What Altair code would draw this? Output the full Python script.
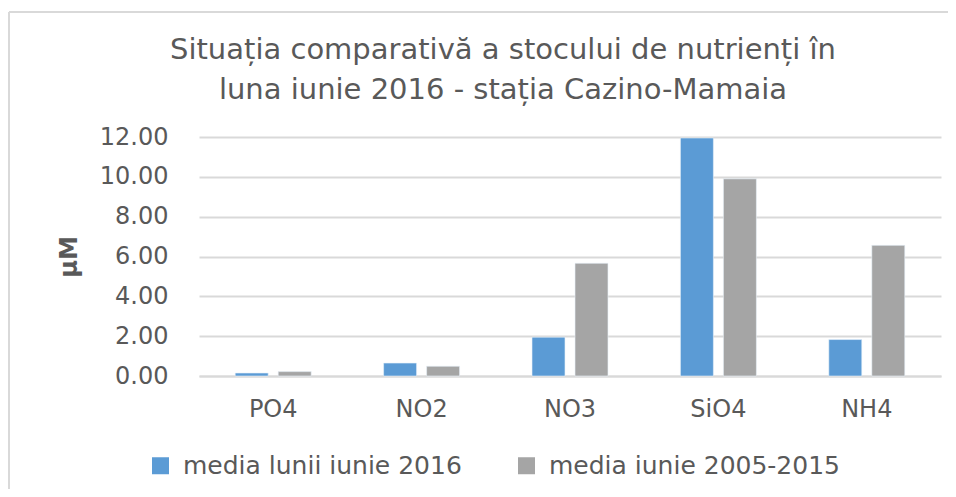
import altair as alt
import pandas as pd

categories = ["PO4", "NO2", "NO3", "SiO4", "NH4"]
series_names = ["media lunii iunie 2016", "media iunie 2005-2015"]
values_2016 = [0.15, 0.65, 1.95, 11.95, 1.83]
values_hist = [0.22, 0.49, 5.66, 9.90, 6.56]
y_ticks = [0, 2, 4, 6, 8, 10, 12]
title_lines = ["Situația comparativă a stocului de nutrienți în",
               "luna iunie 2016 - stația Cazino-Mamaia"]

rows = []
for c, a, b in zip(categories, values_2016, values_hist):
    rows.append({"cat": c, "serie": series_names[0], "val": a})
    rows.append({"cat": c, "serie": series_names[1], "val": b})
df = pd.DataFrame(rows)

FONT = "DejaVu Sans"
TXT = "#595959"
GRID = "#D9D9D9"

bars = alt.Chart(df).mark_bar(stroke="#EAF1FA", strokeWidth=0.6).encode(
    x=alt.X("cat:N", sort=categories, title=None,
            scale=alt.Scale(paddingInner=0.488, paddingOuter=0.244),
            axis=alt.Axis(labelAngle=0, labelFontSize=24, labelColor=TXT,
                          labelFont=FONT, labelPadding=21, ticks=False,
                          domain=True, domainColor=GRID, domainWidth=2, grid=False)),
    xOffset=alt.XOffset("serie:N", sort=series_names,
                        scale=alt.Scale(paddingInner=0.233, paddingOuter=0)),
    y=alt.Y("val:Q", title="µM",
            scale=alt.Scale(domain=[0, 12], nice=False),
            axis=alt.Axis(values=y_ticks, format=".2f", labelFontSize=24,
                          labelColor=TXT, labelFont=FONT, labelPadding=31,
                          ticks=False, domain=False, gridColor=GRID, gridWidth=2,
                          titleFontSize=24, titleFont=FONT, titleFontWeight="bold",
                          titleColor=TXT, titlePadding=18)),
    color=alt.Color("serie:N", sort=series_names,
                    scale=alt.Scale(domain=series_names, range=["#5B9BD5", "#A5A5A5"]),
                    legend=alt.Legend(title=None, orient="none", direction="horizontal",
                                      legendX=-51, legendY=316,
                                      symbolType="square", symbolSize=289,
                                      symbolStrokeWidth=0, labelLimit=0,
                                      labelFontSize=25, labelFont=FONT, labelColor=TXT,
                                      columnPadding=52, labelOffset=10)),
)

border_df = pd.DataFrame({"k": [0]})
left_rule = alt.Chart(border_df).mark_rule(color=GRID, strokeWidth=2).encode(
    x=alt.value(-190), y=alt.value(-125), y2=alt.value(400))
top_rule = alt.Chart(border_df).mark_rule(color=GRID, strokeWidth=2).encode(
    x=alt.value(-190), x2=alt.value(800), y=alt.value(-125))

t1 = alt.Chart(pd.DataFrame({"t": [title_lines[0]]})).mark_text(
    font=FONT, fontSize=29, color=TXT, align="center", baseline="middle").encode(
    text="t:N", x=alt.value(304), y=alt.value(-87))
t2 = alt.Chart(pd.DataFrame({"t": [title_lines[1]]})).mark_text(
    font=FONT, fontSize=29, color=TXT, align="center", baseline="middle").encode(
    text="t:N", x=alt.value(304), y=alt.value(-47))

chart = alt.layer(left_rule, top_rule, t1, t2, bars).properties(
    width=742, height=239,
    autosize=alt.AutoSizeParams(type="none"),
    padding={"left": 191, "top": 129, "right": 7, "bottom": 113},
).configure_view(stroke=None)

chart.save("out.html", embed_options={"renderer": "svg", "actions": False})
